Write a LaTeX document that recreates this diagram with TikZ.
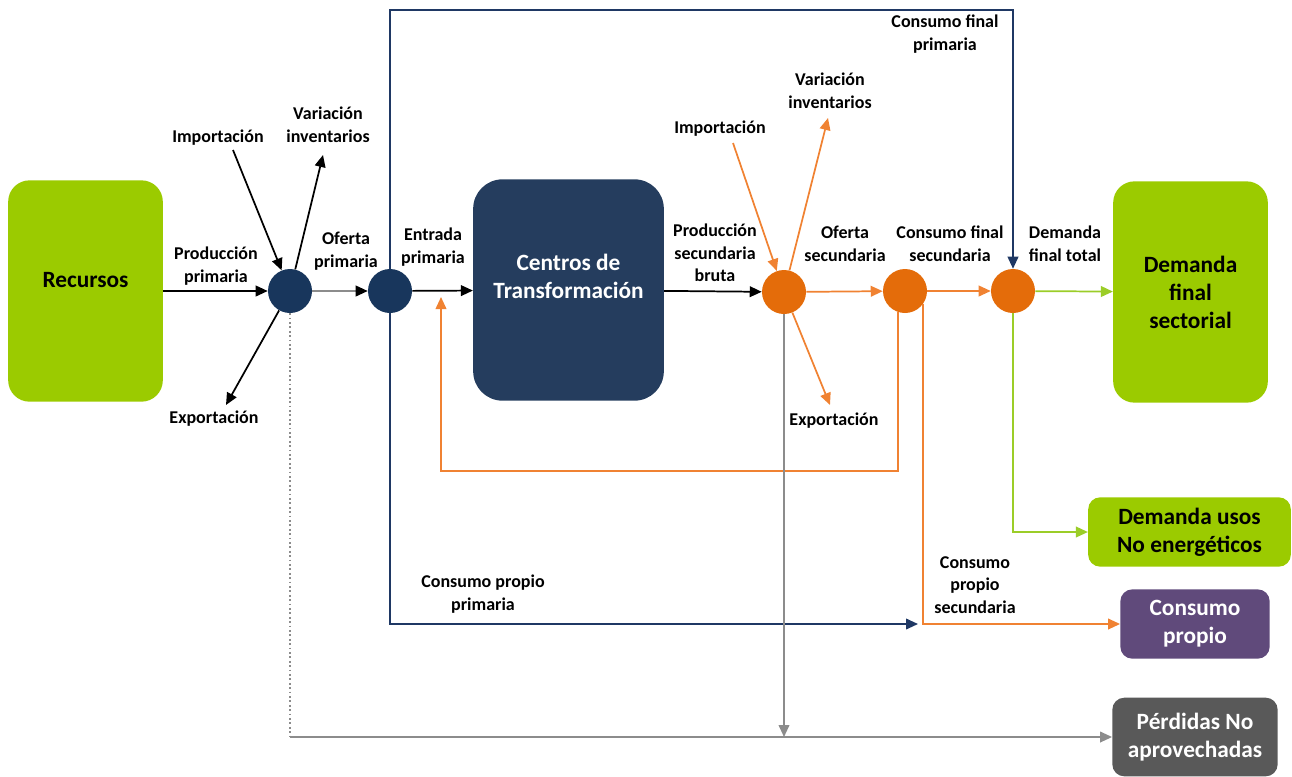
\documentclass[tikz,border=0pt]{standalone}
\usepackage{fontspec}
\setmainfont{Carlito}
\usepackage{xcolor}
\usepackage{tikz}
\usetikzlibrary{arrows.meta}

\definecolor{verde}{RGB}{155,203,0}
\definecolor{verdel}{RGB}{155,205,40}
\definecolor{azul}{RGB}{24,54,92}
\definecolor{azulc}{RGB}{37,61,94}
\definecolor{azull}{RGB}{31,56,100}
\definecolor{naranja}{RGB}{228,108,10}
\definecolor{naranjal}{RGB}{240,130,50}
\definecolor{morado}{RGB}{96,74,123}
\definecolor{grisc}{RGB}{89,89,89}
\definecolor{grisl}{RGB}{140,140,140}

\tikzset{
  lbl/.style={align=center,inner sep=0.75pt,font=\fontsize{13.5}{17}\selectfont\bfseries},
  caja/.style={rounded corners=16pt,align=center,inner sep=2pt,font=\fontsize{17.5}{21}\selectfont\bfseries},
  nudo/.style={circle,minimum size=33pt,inner sep=0pt},
  flecha/.style={line width=1.3pt,-{Triangle[length=9pt,width=8pt]}},
}

\begin{document}
\begin{tikzpicture}[x=0.75pt,y=0.75pt,yscale=-1,xscale=1]
\useasboundingbox (0,0) rectangle (1292,776);

%Rounded Rect: boxes
\node [caja,fill=verde,text depth=16pt,minimum width=116pt,minimum height=166pt] (rec) at (85.5,291) {Recursos};
\node [caja,fill=azulc,text=white,text depth=20pt,rounded corners=22pt,minimum width=143pt,minimum height=166pt] (cent) at (568.5,290) {Centros de\\Transformación};
\node [caja,fill=verde,minimum width=116pt,minimum height=166pt] (dfs) at (1190.5,292) {Demanda\\final\\sectorial};
\node [caja,fill=verde,rounded corners=9pt,minimum width=152pt,minimum height=52pt] (duso) at (1189.5,532) {Demanda usos\\No energéticos};
\node [caja,fill=morado,text=white,rounded corners=9pt,minimum width=112pt,minimum height=52pt] (cprop) at (1195,624) {Consumo\\propio};
\node [caja,fill=grisc,text=white,rounded corners=9pt,minimum width=124pt,minimum height=59pt] (perd) at (1195,737) {Pérdidas No\\aprovechadas};

%Shape: Circle
\node [nudo,fill=azul] (p1) at (290,291) {};
\node [nudo,fill=azul] (p2) at (390,291) {};
\node [nudo,fill=naranja] (s1) at (784,292) {};
\node [nudo,fill=naranja] (s2) at (905,291) {};
\node [nudo,fill=naranja] (s3) at (1013,291) {};

%free ends
\coordinate (imp1) at (233,150);
\coordinate (var1) at (323,155);
\coordinate (exp1) at (226,405);
\coordinate (imp2) at (733,143);
\coordinate (var2) at (828,118);
\coordinate (exp2) at (830,405);
\coordinate (arr) at (390,10);
\coordinate (cpp) at (918,624);
\coordinate (fbk) at (441,471);
\coordinate (entr) at (441,297);
\coordinate (pdot) at (290,737);
\coordinate (ps1) at (784,737);

%Straight Lines: primary side
\draw [flecha] (rec) -- (p1);
\draw [flecha] (imp1) -- (p1);
\draw [flecha] (p1) -- (var1);
\draw [flecha] (p1) -- (exp1);
\draw [flecha,grisl,-{Triangle[length=9pt,width=8pt,color=black]}] (p1) -- (p2);
\draw [flecha] (p2) -- (cent);
\draw [flecha] (cent) -- (s1);
\draw [flecha,azull] (p2) -- (arr) -| (s3);
\draw [flecha,azull] (p2) |- (cpp);

%Straight Lines: secondary side
\draw [flecha,naranjal] (imp2) -- (s1);
\draw [flecha,naranjal] (s1) -- (var2);
\draw [flecha,naranjal] (s1) -- (exp2);
\draw [flecha,naranjal] (s1) -- (s2);
\draw [flecha,naranjal] (s2) -- (s3);
\draw [flecha,naranjal] (s2.-108) |- (fbk) -- (entr);
\draw [flecha,naranjal] (s2.-35) |- (cprop);
\draw [flecha,verdel] (s3) -- (dfs);
\draw [flecha,verdel] (s3) |- (duso);

%Straight Lines: losses
\draw [grisl,line width=1.3pt,dotted] (p1) -- (pdot);
\draw [flecha,grisl] (pdot) -- (perd);
\draw [flecha,grisl] (s1) -- (ps1);

% Text Node
\node [lbl] (lprod1) at (216,266) {Producción\\primaria};
\node [lbl] (limp1) at (218,138) {Importación};
\node [lbl] (lvar1) at (328,125) {Variación\\inventarios};
\node [lbl] (lexp1) at (214,419) {Exportación};
\node [lbl] (lofp) at (346,251) {Oferta\\primaria};
\node [lbl] (lentp) at (433,247) {Entrada\\primaria};
\node [lbl] (lprod2) at (715,253) {Producción\\secundaria\\bruta};
\node [lbl] (limp2) at (720,129) {Importación};
\node [lbl] (lvar2) at (830,91) {Variación\\inventarios};
\node [lbl] (lexp2) at (834,421) {Exportación};
\node [lbl] (lofs) at (845,244) {Oferta\\secundaria};
\node [lbl] (lcfs) at (950,244) {Consumo final\\secundaria};
\node [lbl] (ldft) at (1065,244) {Demanda\\final total};
\node [lbl] (lcfp) at (945,34) {Consumo final\\primaria};
\node [lbl] (lcpp) at (483,594) {Consumo propio\\primaria};
\node [lbl] (lcps) at (975,585) {Consumo\\propio\\secundaria};
\end{tikzpicture}
\end{document}
